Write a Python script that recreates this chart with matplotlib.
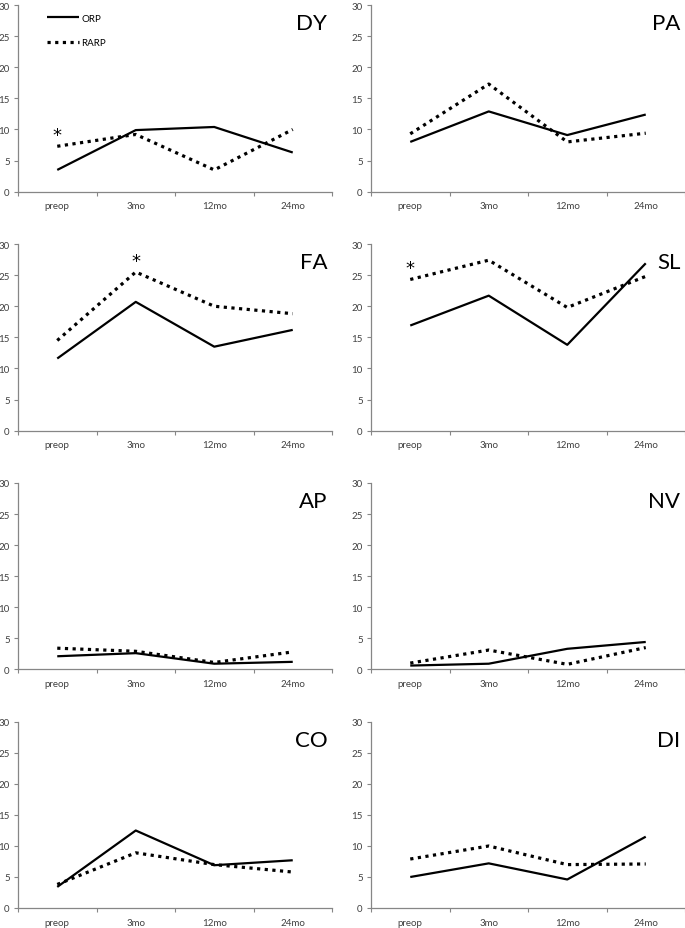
import matplotlib
matplotlib.use("Agg")
import matplotlib.pyplot as plt
import numpy as np

plt.rcParams['font.family'] = ['Lato', 'DejaVu Sans']

# categorias y paneles
periodos = ["preop", "3mo", "12mo", "24mo"]
paneles = ["DY", "PA", "FA", "SL", "AP", "NV", "CO", "DI"]

orp = {
    "DY": [3.5, 9.9, 10.4, 6.3],
    "PA": [8.0, 12.9, 9.1, 12.4],
    "FA": [11.6, 20.7, 13.5, 16.2],
    "SL": [16.9, 21.7, 13.8, 26.9],
    "AP": [2.1, 2.6, 0.9, 1.2],
    "NV": [0.6, 0.9, 3.3, 4.4],
    "CO": [3.4, 12.5, 6.9, 7.7],
    "DI": [5.0, 7.2, 4.6, 11.5],
}
rarp = {
    "DY": [7.3, 9.2, 3.5, 10.0],
    "PA": [9.3, 17.3, 8.0, 9.4],
    "FA": [14.5, 25.5, 20.0, 18.8],
    "SL": [24.3, 27.4, 19.8, 24.8],
    "AP": [3.4, 2.9, 1.1, 2.8],
    "NV": [1.0, 3.1, 0.8, 3.5],
    "CO": [3.8, 8.9, 7.0, 5.8],
    "DI": [7.9, 10.0, 7.0, 7.1],
}
# asteriscos de significancia: (panel, indice periodo, valor y)
asteriscos = [("DY", 0, 9.1), ("FA", 1, 27.3), ("SL", 0, 26.1)]

W, H = 685, 929
fig = plt.figure(figsize=(W / 100, H / 100), dpi=100)

col_x = [18, 371]
fila_y = [(6, 192.7), (245, 431.7), (484, 670.3), (723, 909)]
ancho = 314

gris = "#868686"
x = np.arange(len(periodos)) + 0.5

for i, nombre in enumerate(paneles):
    fila, col = divmod(i, 2)
    top, bot = fila_y[fila]
    ax = fig.add_axes([col_x[col] / W, 1 - bot / H, ancho / W, (bot - top) / H])

    l1, = ax.plot(x, orp[nombre], color="black", lw=1.6, solid_capstyle="butt", label="ORP")
    l2, = ax.plot(x, rarp[nombre], color="black", lw=2.3, linestyle=(0, (1, 1.4)),
                  dash_capstyle="butt", label="RARP")

    ax.set_xlim(0, 4)
    ax.set_ylim(0, 30)
    ax.set_yticks(range(0, 31, 5))
    ax.set_xticks(range(0, 5))
    ax.set_xticklabels([])
    ax.set_xticks(x, minor=True)
    ax.set_xticklabels(periodos, minor=True)
    ax.tick_params(axis="x", which="minor", length=0, pad=7, labelsize=7, labelcolor="#404040")
    ax.tick_params(axis="x", which="major", length=3, color=gris, direction="out")
    ax.tick_params(axis="y", length=3, color=gris, direction="out", labelsize=7,
                   labelcolor="#404040", pad=3)

    for s in ["top", "right"]:
        ax.spines[s].set_visible(False)
    for s in ["left", "bottom"]:
        ax.spines[s].set_color(gris)
        ax.spines[s].set_linewidth(0.9)

    ax.text(0.985, 0.955, nombre, transform=ax.transAxes, ha="right", va="top",
            fontsize=16, color="black")

    for p, k, yv in asteriscos:
        if p == nombre:
            ax.text(x[k], yv, "*", ha="center", va="center", fontsize=13, color="black",
                    family="DejaVu Sans")

    if nombre == "DY":
        ax.legend(handles=[l1, l2], loc="upper left", bbox_to_anchor=(0.065, 1.0),
                  frameon=False, fontsize=7, handlelength=3.3, labelspacing=1.6,
                  handletextpad=0.2)

fig.savefig("out.png", dpi=100)
